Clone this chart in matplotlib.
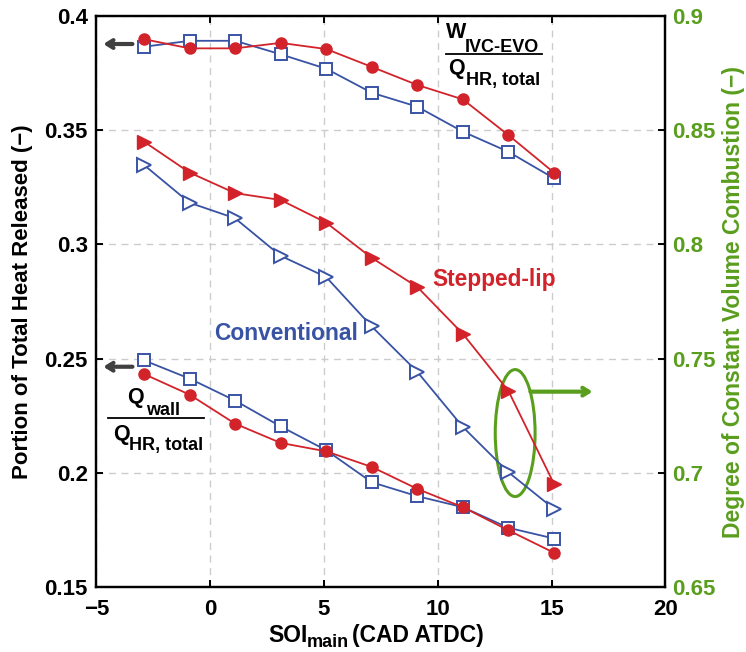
import matplotlib

matplotlib.use("Agg")
import matplotlib.pyplot as plt
from matplotlib.patches import Ellipse
from matplotlib.ticker import FuncFormatter

plt.rcParams["font.family"] = ["Liberation Sans", "DejaVu Sans"]
plt.rcParams["font.weight"] = "bold"

RED = "#d2232a"
BLUE = "#3953a4"
GREEN = "#5a9e1e"

soi = [-2.9, -0.9, 1.1, 3.1, 5.1, 7.1, 9.1, 11.1, 13.1, 15.1]

# work IVC-EVO / total heat released (left axis)
work_stepped = [0.3897, 0.3857, 0.3857, 0.3881, 0.3854, 0.3776, 0.3697, 0.3634, 0.3478, 0.3314]
work_conv = [0.3864, 0.3890, 0.3890, 0.3831, 0.3768, 0.3663, 0.3602, 0.3493, 0.3405, 0.3289]

# wall heat loss / total heat released (left axis)
wall_stepped = [0.2433, 0.2343, 0.2216, 0.2132, 0.2095, 0.2027, 0.1931, 0.1851, 0.1750, 0.1652]
wall_conv = [0.2493, 0.2413, 0.2317, 0.2204, 0.2100, 0.1960, 0.1899, 0.1851, 0.1761, 0.1714]

# degree of constant volume combustion (right axis)
dcv_stepped = [0.8449, 0.8314, 0.8224, 0.8194, 0.8095, 0.7941, 0.7814, 0.7609, 0.7360, 0.6954]
dcv_conv = [0.8347, 0.8182, 0.8114, 0.7950, 0.7857, 0.7641, 0.7443, 0.7202, 0.7004, 0.6844]

left_ticks = [0.15, 0.2, 0.25, 0.3, 0.35, 0.4]
right_ticks = [0.65, 0.7, 0.75, 0.8, 0.85, 0.9]
x_ticks = [-5, 0, 5, 10, 15, 20]


def g_fmt(v, pos):
    return f"{v:g}"


fig = plt.figure(figsize=(7.46, 6.52), dpi=100)
ax = fig.add_axes([0.129, 0.099, 0.763, 0.877])
ax2 = ax.twinx()

ax.set_xlim(-5, 20)
ax.set_ylim(0.15, 0.4)
ax2.set_ylim(0.65, 0.9)
ax.set_xticks(x_ticks)
ax.set_yticks(left_ticks)
ax2.set_yticks(right_ticks)
ax.yaxis.set_major_formatter(FuncFormatter(g_fmt))
ax2.yaxis.set_major_formatter(FuncFormatter(g_fmt))

ax.grid(True, linestyle=(0, (5, 4)), color="#cccccc", linewidth=1.0)
ax.set_axisbelow(True)

line_kw = dict(linewidth=1.3, markersize=8, clip_on=False)
ax.plot(soi, work_conv, color=BLUE, marker="s", mfc="white", mew=1.4, **line_kw)
ax.plot(soi, work_stepped, color=RED, marker="o", **line_kw)
ax.plot(soi, wall_conv, color=BLUE, marker="s", mfc="white", mew=1.4, **line_kw)
ax.plot(soi, wall_stepped, color=RED, marker="o", **line_kw)
ax2.plot(soi, dcv_conv, color=BLUE, marker=">", mfc="white", mew=1.4, markersize=10.5,
         linewidth=1.3)
ax2.plot(soi, dcv_stepped, color=RED, marker=">", markersize=9.5, linewidth=1.3)

for a in (ax, ax2):
    for s in a.spines.values():
        s.set_linewidth(1.6)
ax.tick_params(axis="both", direction="in", length=5, width=1.4, labelsize=16, top=True)
ax.tick_params(axis="x", pad=8)
ax.tick_params(axis="y", pad=6)
ax2.tick_params(direction="in", length=5, width=1.4, labelsize=16, pad=4.5,
                labelcolor=GREEN)

ax.set_ylabel("Portion of Total Heat Released (−)", fontsize=16, fontweight="bold",
              labelpad=8)
ax2.set_ylabel("Degree of Constant Volume Combustion (−)", fontsize=16.5,
               fontweight="bold", color=GREEN, labelpad=5)

# x label built from pieces so the subscript keeps its size
fig.text(268 / 746, 1 - 642 / 652, "SOI", fontsize=16.5, va="baseline", ha="left")
fig.text(307 / 746, 1 - 647 / 652, "main", fontsize=13, va="baseline", ha="left")
fig.text(352 / 746, 1 - 642 / 652, "(CAD ATDC)", fontsize=16.5, va="baseline",
         ha="left")

# series labels
ax.text(9.78, 0.2819, "Stepped-lip", color=RED, fontsize=16.4, va="baseline", ha="left")
ax.text(0.18, 0.2583, "Conventional", color=BLUE, fontsize=16.4, va="baseline",
        ha="left")

# W_IVC-EVO / Q_HR,total
ax.text(10.35, 0.3902, "W", fontsize=15.5, va="baseline", ha="left")
ax.text(11.19, 0.3843, "IVC-EVO", fontsize=13, va="baseline", ha="left")
ax.plot([10.35, 14.56], [0.3834, 0.3834], color="black", linewidth=1.3)
ax.text(10.44, 0.3745, "Q", fontsize=15.5, va="baseline", ha="left")
ax.text(11.24, 0.3697, "HR, total", fontsize=13, va="baseline", ha="left")

# Q_wall / Q_HR,total
ax.text(-3.63, 0.2308, "Q", fontsize=15.5, va="baseline", ha="left")
ax.text(-2.83, 0.2255, "wall", fontsize=13, va="baseline", ha="left")
ax.plot([-4.47, -0.27], [0.2242, 0.2242], color="black", linewidth=1.3)
ax.text(-4.25, 0.2146, "Q", fontsize=15.5, va="baseline", ha="left")
ax.text(-3.58, 0.2102, "HR, total", fontsize=13, va="baseline", ha="left")

# arrows pointing to the left axis
arrow_kw = dict(arrowstyle="->,head_length=0.45,head_width=0.28", color="#404040",
                lw=3.0, shrinkA=0, shrinkB=0)
ax.annotate("", xy=(-4.69, 0.3876), xytext=(-3.41, 0.3876), arrowprops=arrow_kw)
ax.annotate("", xy=(-4.69, 0.2465), xytext=(-3.41, 0.2465), arrowprops=arrow_kw)

# green ellipse and arrow pointing to the right axis
ax.add_patch(Ellipse((13.4, 0.2175), 1.75, 0.0555, fill=False, edgecolor=GREEN,
                     linewidth=2.2))
ax.annotate("", xy=(16.8, 0.2356), xytext=(14.07, 0.2356),
            arrowprops=dict(arrowstyle="->,head_length=0.45,head_width=0.28",
                            color=GREEN, lw=3.0, shrinkA=0, shrinkB=0))

fig.savefig("out.png", dpi=100)
